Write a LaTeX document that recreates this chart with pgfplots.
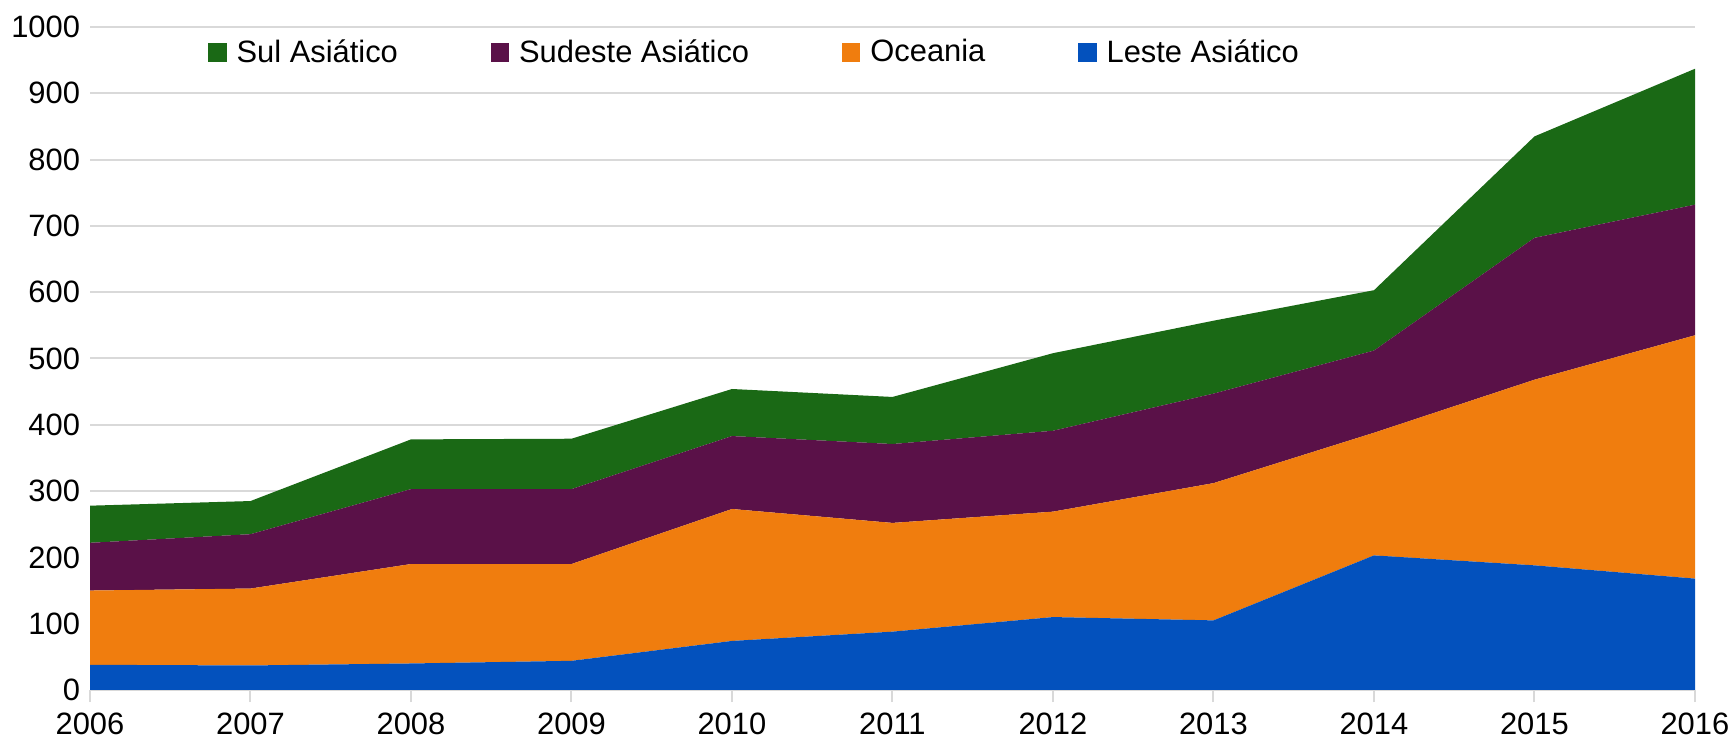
\documentclass[border=0pt]{standalone}
\usepackage{pgfplots}
\pgfplotsset{compat=1.18}
\usepackage{fontspec}
\setmainfont{Liberation Sans}
\definecolor{cSul}{HTML}{1A6915}
\definecolor{cSud}{HTML}{5A1148}
\definecolor{cOce}{HTML}{F07D0E}
\definecolor{cLes}{HTML}{0351BD}
\definecolor{cGrid}{HTML}{D9D9D9}
\begin{document}
\begin{tikzpicture}
\path[use as bounding box] (-45bp,-24bp) rectangle (821.5bp,345bp);
\begin{axis}[
  at={(0,0)}, anchor=south west,
  scale only axis,
  width=802.5bp, height=331.5bp,
  xmin=2006, xmax=2016, ymin=0, ymax=1000,
  xtick={2006,...,2016}, ytick={0,100,...,1000},
  font=\fontsize{15.5}{18}\selectfont,
  /pgf/number format/assume math mode=true,
  /pgf/number format/1000 sep={},
  ymajorgrids, grid style={cGrid, line width=1bp},
  axis x line*=bottom, axis y line*=left,
  x axis line style={cGrid, line width=1bp},
  y axis line style={draw=none},
  xtick style={cGrid, line width=1bp},
  ytick style={draw=none},
  tick align=outside, major tick length=6bp,
  xticklabel style={yshift=-2bp},
  yticklabel style={xshift=4.5bp},
  stack plots=y,
  area style,
  axis on top=false,
  reverse legend,
  legend columns=4,
  legend image code/.code={\fill[#1] (0bp,-4.7bp) rectangle (9.3bp,4.7bp);},
  legend style={draw=none, fill=none, inner sep=0pt, outer sep=0pt,
    at={(0.0735,0.962)}, anchor=west,
    nodes={inner sep=0pt},
    /tikz/every even column/.append style={column sep=46.3bp},
    /tikz/every odd column/.append style={column sep=5bp}},
]
\addplot[fill=cLes, draw=none] coordinates {(2006,38) (2007,37) (2008,40) (2009,44) (2010,74) (2011,88) (2012,110) (2013,105) (2014,203) (2015,188) (2016,168)} \closedcycle;
\addlegendentry{Leste Asiático}
\addplot[fill=cOce, draw=none] coordinates {(2006,112) (2007,116) (2008,150) (2009,146) (2010,199) (2011,164) (2012,159) (2013,207) (2014,185) (2015,280) (2016,367)} \closedcycle;
\addlegendentry{Oceania}
\addplot[fill=cSud, draw=none] coordinates {(2006,72) (2007,82) (2008,113) (2009,113) (2010,110) (2011,119) (2012,122) (2013,135) (2014,124) (2015,214) (2016,197)} \closedcycle;
\addlegendentry{Sudeste Asiático}
\addplot[fill=cSul, draw=none] coordinates {(2006,56) (2007,50) (2008,75) (2009,76) (2010,71) (2011,71) (2012,117) (2013,110) (2014,91) (2015,153) (2016,205)} \closedcycle;
\addlegendentry{Sul Asiático}
\end{axis}
\end{tikzpicture}
\end{document}
